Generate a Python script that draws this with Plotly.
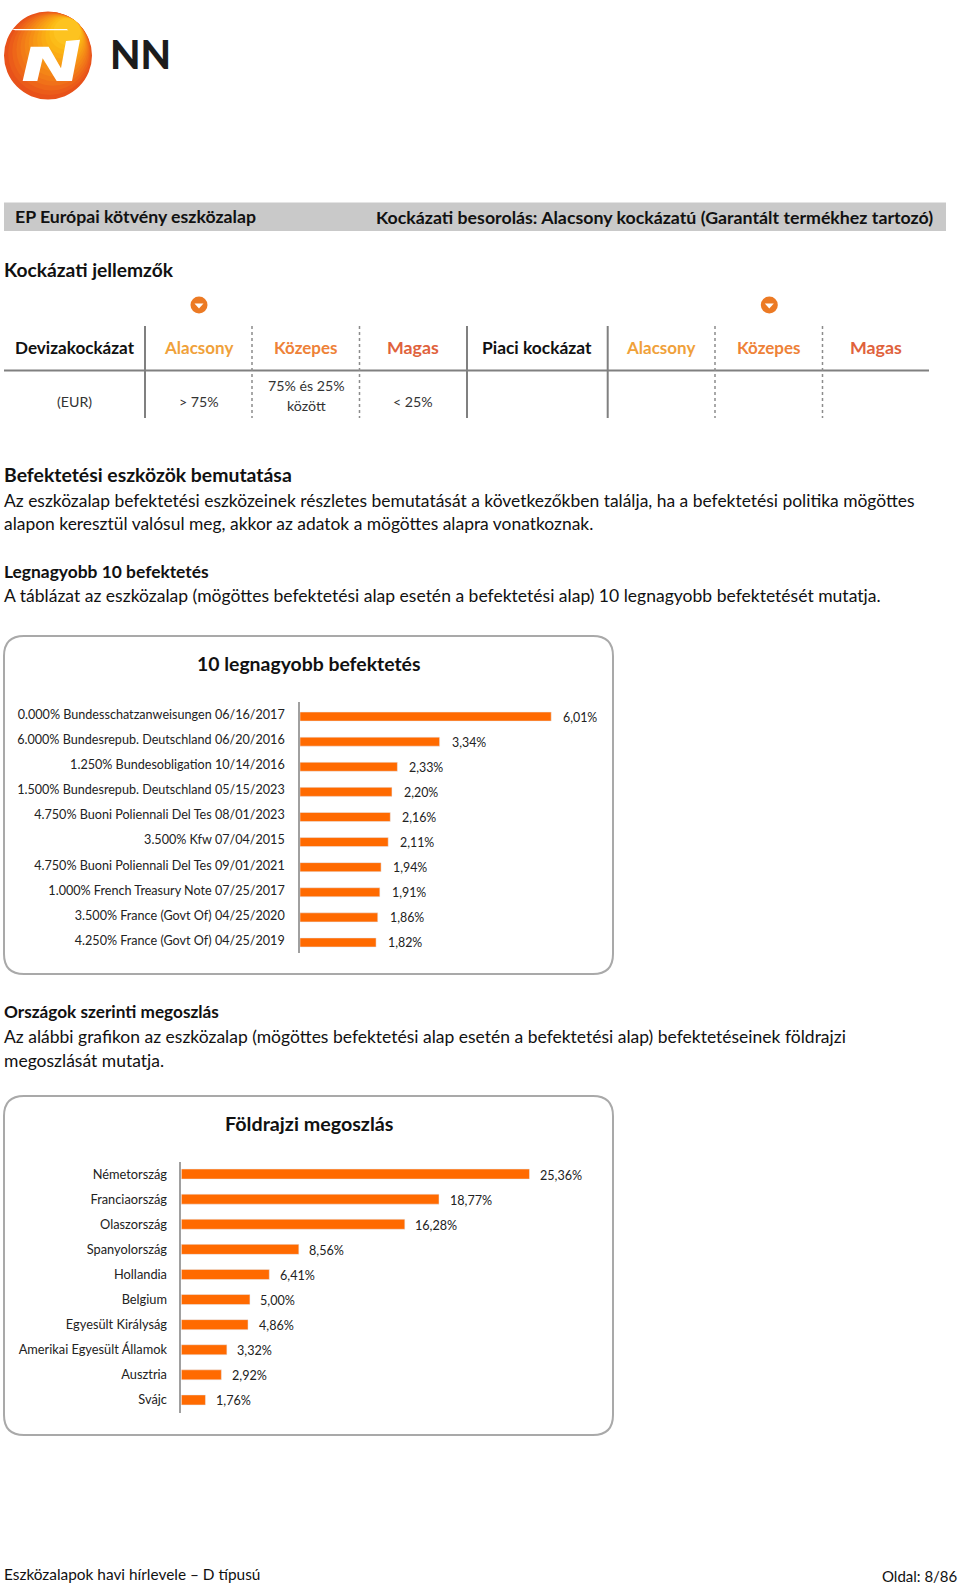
import plotly.graph_objects as go

W, H = 960, 1586
FONT = "Lato"
ORANGE = "#ff6a00"

top_names = ["0.000% Bundesschatzanweisungen 06/16/2017", "6.000% Bundesrepub. Deutschland 06/20/2016",
             "1.250% Bundesobligation 10/14/2016", "1.500% Bundesrepub. Deutschland 05/15/2023",
             "4.750% Buoni Poliennali Del Tes 08/01/2023", "3.500% Kfw 07/04/2015",
             "4.750% Buoni Poliennali Del Tes 09/01/2021", "1.000% French Treasury Note 07/25/2017",
             "3.500% France (Govt Of) 04/25/2020", "4.250% France (Govt Of) 04/25/2019"]
top_values = [6.01, 3.34, 2.33, 2.20, 2.16, 2.11, 1.94, 1.91, 1.86, 1.82]

geo_names = ["Németország", "Franciaország", "Olaszország", "Spanyolország", "Hollandia", "Belgium",
             "Egyesült Királyság", "Amerikai Egyesült Államok", "Ausztria", "Svájc"]
geo_values = [25.36, 18.77, 16.28, 8.56, 6.41, 5.00, 4.86, 3.32, 2.92, 1.76]


def px(x):
    return x / W


def py(y):
    return 1 - y / H


annotations = []
shapes = []


def T(x, y, s, size=17.5, bold=False, color="#111111", anchor="left", family=FONT, weight=None):
    f = dict(family=family, size=size, color=color)
    if weight:
        f["weight"] = weight
    annotations.append(dict(
        x=px(x), y=py(y), xref="paper", yref="paper", text=f"<b>{s}</b>" if bold else s,
        showarrow=False, xanchor=anchor, yanchor="middle", align=anchor,
        font=f, borderpad=0, borderwidth=0))


def path(d, fill=None, line=None, width=0, dash=None):
    shapes.append(dict(type="path", xref="paper", yref="paper", path=d,
                       fillcolor=fill or "rgba(0,0,0,0)", layer="below",
                       line=dict(color=line or "rgba(0,0,0,0)", width=width, dash=dash or "solid")))


def P(*pts):
    return " ".join(f"{c}{px(a):.5f},{py(b):.5f}" for c, a, b in pts)


def rect(x0, y0, x1, y1, fill):
    path(P(("M", x0, y0), ("L", x1, y0), ("L", x1, y1), ("L", x0, y1)) + " Z", fill=fill)


def seg(x0, y0, x1, y1, color="#808080", width=2, dash=None):
    path(P(("M", x0, y0), ("L", x1, y1)), line=color, width=width, dash=dash)


def circle(cx, cy, r, fill):
    shapes.append(dict(type="circle", xref="paper", yref="paper", layer="below",
                       x0=px(cx - r), x1=px(cx + r), y0=py(cy - r), y1=py(cy + r),
                       fillcolor=fill, line=dict(width=0)))


def rounded(x0, y0, x1, y1, r):
    d = (f"M{px(x0 + r):.5f},{py(y0):.5f} L{px(x1 - r):.5f},{py(y0):.5f} "
         f"Q{px(x1):.5f},{py(y0):.5f} {px(x1):.5f},{py(y0 + r):.5f} "
         f"L{px(x1):.5f},{py(y1 - r):.5f} Q{px(x1):.5f},{py(y1):.5f} {px(x1 - r):.5f},{py(y1):.5f} "
         f"L{px(x0 + r):.5f},{py(y1):.5f} Q{px(x0):.5f},{py(y1):.5f} {px(x0):.5f},{py(y1 - r):.5f} "
         f"L{px(x0):.5f},{py(y0 + r):.5f} Q{px(x0):.5f},{py(y0):.5f} {px(x0 + r):.5f},{py(y0):.5f} Z")
    path(d, fill="white", line="#a9a9a9", width=2)


# logo
cx, cy, R = 48, 55.5, 44
steps = ["#e8521a", "#eb5c1a", "#ee6619", "#f07119", "#f27b18", "#f48517", "#f68f16", "#f79916",
         "#f9a215", "#faab15", "#fbb414", "#fcbc18", "#fdc320"]
for i, c in enumerate(steps):
    r = R * (1 - i * 0.058)
    circle(cx + (R - r) * 0.62, cy - (R - r) * 0.78, r, c)
Lx = lambda v: v / 3
Ly = lambda v: 5 + v / 3
path(P(("M", Lx(35), Ly(72)), ("L", Lx(200), Ly(72)), ("L", Lx(205), Ly(76)), ("L", Lx(45), Ly(76))) + " Z", fill="white")
path(P(("M", Lx(92), Ly(125)), ("L", Lx(146), Ly(125)), ("L", Lx(183), Ly(190)), ("L", Lx(198), Ly(108)),
       ("L", Lx(240), Ly(104)), ("L", Lx(216), Ly(228)), ("L", Lx(170), Ly(228)), ("L", Lx(128), Ly(160)),
       ("L", Lx(112), Ly(228)), ("L", Lx(68), Ly(228))) + " Z", fill="white")
T(110, 54, "NN", size=39.5, color="#1c1c1c", weight=900)

# header band
rect(4, 202.5, 946, 231, "#c9c9c9")
T(15, 217, "EP Európai kötvény eszközalap", size=17.7, bold=True)
T(376, 217, "Kockázati besorolás: Alacsony kockázatú (Garantált termékhez tartozó)", size=17.75, bold=True)
T(4, 269, "Kockázati jellemzők", size=19.2, bold=True)

# risk table
for cxm in (199, 769.3):
    circle(cxm, 305, 8.5, "#ec7a24")
    path(P(("M", cxm - 4.5, 303.5), ("L", cxm + 4.5, 303.5), ("L", cxm, 308.5)) + " Z", fill="white")
seg(4, 370.5, 929, 370.5)
for x in (145, 467, 607.7):
    seg(x, 326, x, 418)
for x in (252, 359.5, 715, 822.5):
    seg(x, 326, x, 418, color="#8c8c8c", width=1.5, dash="dot")
T(74.5, 347.5, "Devizakockázat", size=17.1, bold=True, anchor="center")
T(537, 347.5, "Piaci kockázat", size=17.4, bold=True, anchor="center")
for offs in (198, 660):
    T(offs, 347.5, "Alacsony", size=17, bold=True, color="#f0a13a", anchor="center")
for offs in (306, 769):
    T(offs, 347.5, "Közepes", size=17, bold=True, color="#ee8238", anchor="center")
for offs in (413, 876):
    T(offs, 346.5, "Magas", size=17.8, bold=True, color="#e0623c", anchor="center")
T(74, 401, "(EUR)", size=14.2, color="#333333", anchor="center")
T(199, 401, "&gt; 75%", size=14.2, color="#333333", anchor="center")
T(306, 386, "75% és 25%", size=14.2, color="#333333", anchor="center")
T(306, 405, "között", size=14.2, color="#333333", anchor="center")
T(413, 401, "&lt; 25%", size=14.2, color="#333333", anchor="center")

# text blocks
T(4, 474, "Befektetési eszközök bemutatása", size=19.4, bold=True)
T(4, 500, "Az eszközalap befektetési eszközeinek részletes bemutatását a következőkben találja, ha a befektetési politika mögöttes", size=17.45)
T(4, 523, "alapon keresztül valósul meg, akkor az adatok a mögöttes alapra vonatkoznak.", size=17.45)
T(4, 571, "Legnagyobb 10 befektetés", size=17.4, bold=True)
T(4, 595, "A táblázat az eszközalap (mögöttes befektetési alap esetén a befektetési alap) 10 legnagyobb befektetését mutatja.", size=17.55)
T(4, 1011, "Országok szerinti megoszlás", size=17.2, bold=True)
T(4, 1036, "Az alábbi grafikon az eszközalap (mögöttes befektetési alap esetén a befektetési alap) befektetéseinek földrajzi")
T(4, 1060, "megoszlását mutatja.")
T(4, 1574, "Eszközalapok havi hírlevele – D típusú", size=15.4)
T(957.5, 1576, "Oldal: 8/86", size=15, anchor="right")

# panels
rounded(4, 636, 613, 974, 20)
rounded(4, 1096, 613, 1435, 20)
T(308.5, 663, "10 legnagyobb befektetés", size=19.4, bold=True, anchor="center")
T(309.5, 1123, "Földrajzi megoszlás", size=19.7, bold=True, anchor="center")

fig = go.Figure()
# first chart's bars sit a little below their category labels in the reference
fig.add_trace(go.Bar(x=top_values, y=top_names, orientation="h", marker_color=ORANGE,
                     width=0.36, offset=-0.10, xaxis="x", yaxis="y", showlegend=False))
fig.add_trace(go.Bar(x=geo_values, y=geo_names, orientation="h", marker_color=ORANGE,
                     width=0.40, offset=-0.20, xaxis="x2", yaxis="y2", showlegend=False))

for names, vals, xr, yr, fs, ys, xs in ((top_names, top_values, "x", "y", 12.4, -2.5, 10),
                                        (geo_names, geo_values, "x2", "y2", 12.6, -1, 8.5)):
    for n, v in zip(names, vals):
        annotations.append(dict(x=v, y=n, xref=xr, yref=yr, text=f"{v:.2f}%".replace(".", ","), showarrow=False,
                                xanchor="left", yanchor="middle", xshift=xs, yshift=ys,
                                font=dict(family=FONT, size=fs, color="#222222")))

ax_common = dict(showgrid=False, zeroline=False, showticklabels=False, ticks="", fixedrange=True)
cat_common = dict(type="category", autorange=False, range=[9.5, -0.5], showgrid=False, zeroline=False, ticks="",
                  showline=True, linecolor="#a0a0a0", linewidth=1.5, fixedrange=True)

fig.update_layout(
    width=W, height=H, margin=dict(l=0, r=0, t=0, b=0), autosize=False,
    paper_bgcolor="white", plot_bgcolor="rgba(0,0,0,0)", showlegend=False,
    xaxis=dict(domain=[px(300), px(300 + 41.8 * 7)], range=[0, 7], anchor="y", **ax_common),
    yaxis=dict(domain=[py(953), py(702)], anchor="x", ticklabelstandoff=11,
               tickfont=dict(family=FONT, size=12.6, color="#222222"), **cat_common),
    xaxis2=dict(domain=[px(181.3), px(181.3 + 13.73 * 30)], range=[0, 30], anchor="y2", **ax_common),
    yaxis2=dict(domain=[py(1412.5), py(1161.5)], anchor="x2", ticklabelstandoff=10,
                tickfont=dict(family=FONT, size=12.8, color="#222222"), **cat_common),
    annotations=annotations, shapes=shapes,
)
fig.write_html("out.html", config=dict(displayModeBar=False),
               post_script="document.body.style.margin='0';document.documentElement.style.overflow='hidden';")
